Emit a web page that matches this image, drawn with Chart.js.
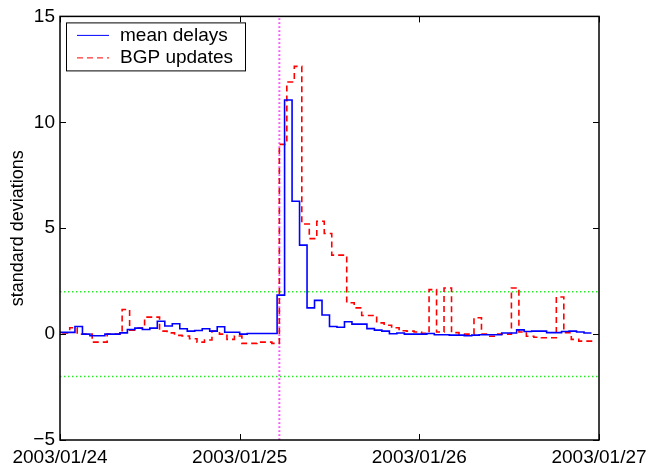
<!DOCTYPE html>
<html>
<head>
<meta charset="utf-8">
<script src="https://cdn.jsdelivr.net/npm/chart.js@4.4.1/dist/chart.umd.min.js"></script>
<style>
  html, body { margin: 0; padding: 0; background: #fff; }
  #chart { display: block; }
</style>
</head>
<body>
<canvas id="chart" width="648" height="463"></canvas>
<script>
// hourly bins starting 2003/01/24 00:00
const meanDelays = [
  0.08, 0.08, 0.36, 0.0, -0.08, -0.08, 0.0, 0.0, 0.06, 0.22, 0.28, 0.22,
  0.28, 0.61, 0.38, 0.49, 0.25, 0.14, 0.17, 0.25, 0.14, 0.35, 0.09, 0.09,
  0.0, 0.03, 0.03, 0.03, 0.03, 1.84, 11.05, 6.27, 4.2, 1.24, 1.59, 0.9,
  0.36, 0.32, 0.58, 0.47, 0.47, 0.26, 0.19, 0.14, 0.02, 0.05, 0.0, 0.0,
  0.0, 0.03, -0.03, -0.03, -0.05, -0.05, -0.08, -0.05, -0.03, -0.03, -0.03, 0.05,
  0.05, 0.2, 0.12, 0.14, 0.14, 0.07, 0.07, 0.12, 0.14, 0.1, 0.05, 0.05
];
const bgpUpdates = [
  0.06, 0.3, 0.0, 0.0, -0.38, -0.38, 0.0, 0.0, 1.16, 0.18, 0.28, 0.8,
  0.8, 0.14, 0.06, -0.06, -0.09, -0.22, -0.38, -0.28, 0.14, 0.0, -0.25, -0.09,
  -0.44, -0.44, -0.38, -0.38, -0.44, 8.96, 11.9, 12.64, 5.2, 4.51, 5.33, 4.75,
  3.73, 3.73, 1.48, 1.24, 0.88, 0.88, 0.53, 0.42, 0.3, 0.16, 0.14, 0.1,
  0.04, 2.1, 0.1, 2.18, 0.07, 0.0, 0.0, 0.77, 0.0, -0.1, 0.0, 0.0,
  2.18, 0.1, -0.1, -0.15, -0.17, -0.17, 1.75, 0.07, -0.25, -0.33, -0.33, -0.33
];
const bgpShift = 0.3;          // BGP bins start a bit after the hour
const thresholds = [2, -2];
const eventHour = 29.3;        // worm onset
const xTickLabels = ['2003/01/24', '2003/01/25', '2003/01/26', '2003/01/27'];
const yTickLabels = ['\u22125', '0', '5', '10', '15'];
const yMin = -5, yMax = 15, hoursTotal = 72;

const font = "'Liberation Sans', Arial, Helvetica, sans-serif";

const datasets = [
  {
    label: 'mean delays',
    data: meanDelays.map((v, i) => ({ x: i, y: v })),
    borderColor: '#0000ff',
    borderWidth: 1.6,
    stepped: 'before'
  },
  {
    label: 'BGP updates',
    data: bgpUpdates.map((v, i) => ({ x: i + bgpShift, y: v })),
    borderColor: '#ff0000',
    borderWidth: 1.6,
    borderDash: [6, 4],
    stepped: 'before'
  }
];
thresholds.forEach(t => {
  datasets.push({
    data: [{ x: 0, y: t }, { x: hoursTotal, y: t }],
    borderColor: 'rgb(40,230,40)',
    borderWidth: 1.6,
    borderDash: [1.5, 2.5]
  });
});
datasets.push({
  data: [{ x: eventHour, y: yMin }, { x: eventHour, y: yMax }],
  borderColor: 'rgb(255,80,255)',
  borderWidth: 2,
  borderDash: [1.8, 2.2]
});

// box, inward ticks and the legend like a matlab figure
const frame = {
  id: 'frame',
  afterDraw(chart) {
    const c = chart.ctx, a = chart.chartArea;
    const xs = chart.scales.x, ys = chart.scales.y;
    c.save();
    c.strokeStyle = '#000';
    c.lineWidth = 1.5;
    c.setLineDash([]);
    c.strokeRect(a.left, a.top, a.right - a.left, a.bottom - a.top);
    c.lineWidth = 1;
    c.beginPath();
    xs.ticks.forEach(t => {
      const px = Math.round(xs.getPixelForValue(t.value)) + 0.5;
      c.moveTo(px, a.bottom); c.lineTo(px, a.bottom - 6);
      c.moveTo(px, a.top); c.lineTo(px, a.top + 6);
    });
    ys.ticks.forEach(t => {
      const py = Math.round(ys.getPixelForValue(t.value)) + 0.5;
      c.moveTo(a.left, py); c.lineTo(a.left + 6, py);
      c.moveTo(a.right, py); c.lineTo(a.right - 6, py);
    });
    c.stroke();

    // legend
    const items = chart.data.datasets.filter(d => d.label);
    const bx = a.left + 6, by = a.top + 6, bw = 179, bh = 48;
    c.fillStyle = '#fff';
    c.fillRect(bx, by, bw, bh);
    c.strokeStyle = '#000';
    c.lineWidth = 1;
    c.strokeRect(bx + 0.5, by + 0.5, bw, bh);
    c.font = '19px ' + font;
    c.textBaseline = 'middle';
    items.forEach((d, i) => {
      const ly = by + 13 + i * 22.5;
      c.strokeStyle = d.borderColor;
      c.lineWidth = 1;
      c.setLineDash(d.borderDash || []);
      c.beginPath();
      c.moveTo(bx + 11, ly); c.lineTo(bx + 43, ly);
      c.stroke();
      c.fillStyle = '#000';
      c.fillText(d.label, bx + 54, ly);
    });
    c.restore();
  }
};

new Chart(document.getElementById('chart'), {
  type: 'line',
  data: { datasets },
  options: {
    responsive: false,
    animation: false,
    events: [],
    layout: { padding: { left: 0, right: 49, top: 15, bottom: 0 } },
    elements: { point: { radius: 0 }, line: { tension: 0 } },
    plugins: { legend: { display: false }, tooltip: { enabled: false } },
    scales: {
      x: {
        type: 'linear',
        min: 0,
        max: hoursTotal,
        grid: { display: false, drawTicks: false },
        border: { display: false },
        ticks: {
          stepSize: 24,
          padding: 6,
          maxRotation: 0,
          autoSkip: false,
          color: '#000',
          font: { family: font, size: 19 },
          callback: v => xTickLabels[v / 24]
        },
        afterFit: s => { s.height = 23; s.paddingLeft = 0; s.paddingRight = 0; }
      },
      y: {
        min: yMin,
        max: yMax,
        grid: { display: false, drawTicks: false },
        border: { display: false },
        ticks: {
          stepSize: 5,
          padding: 5,
          color: '#000',
          font: { family: font, size: 19 },
          callback: v => yTickLabels[(v - yMin) / 5]
        },
        title: {
          display: true,
          text: 'standard deviations',
          color: '#000',
          font: { family: font, size: 18 },
          padding: { top: 7, bottom: 0 }
        },
        afterFit: s => { s.width = 60; }
      }
    }
  },
  plugins: [frame]
});
</script>
</body>
</html>
